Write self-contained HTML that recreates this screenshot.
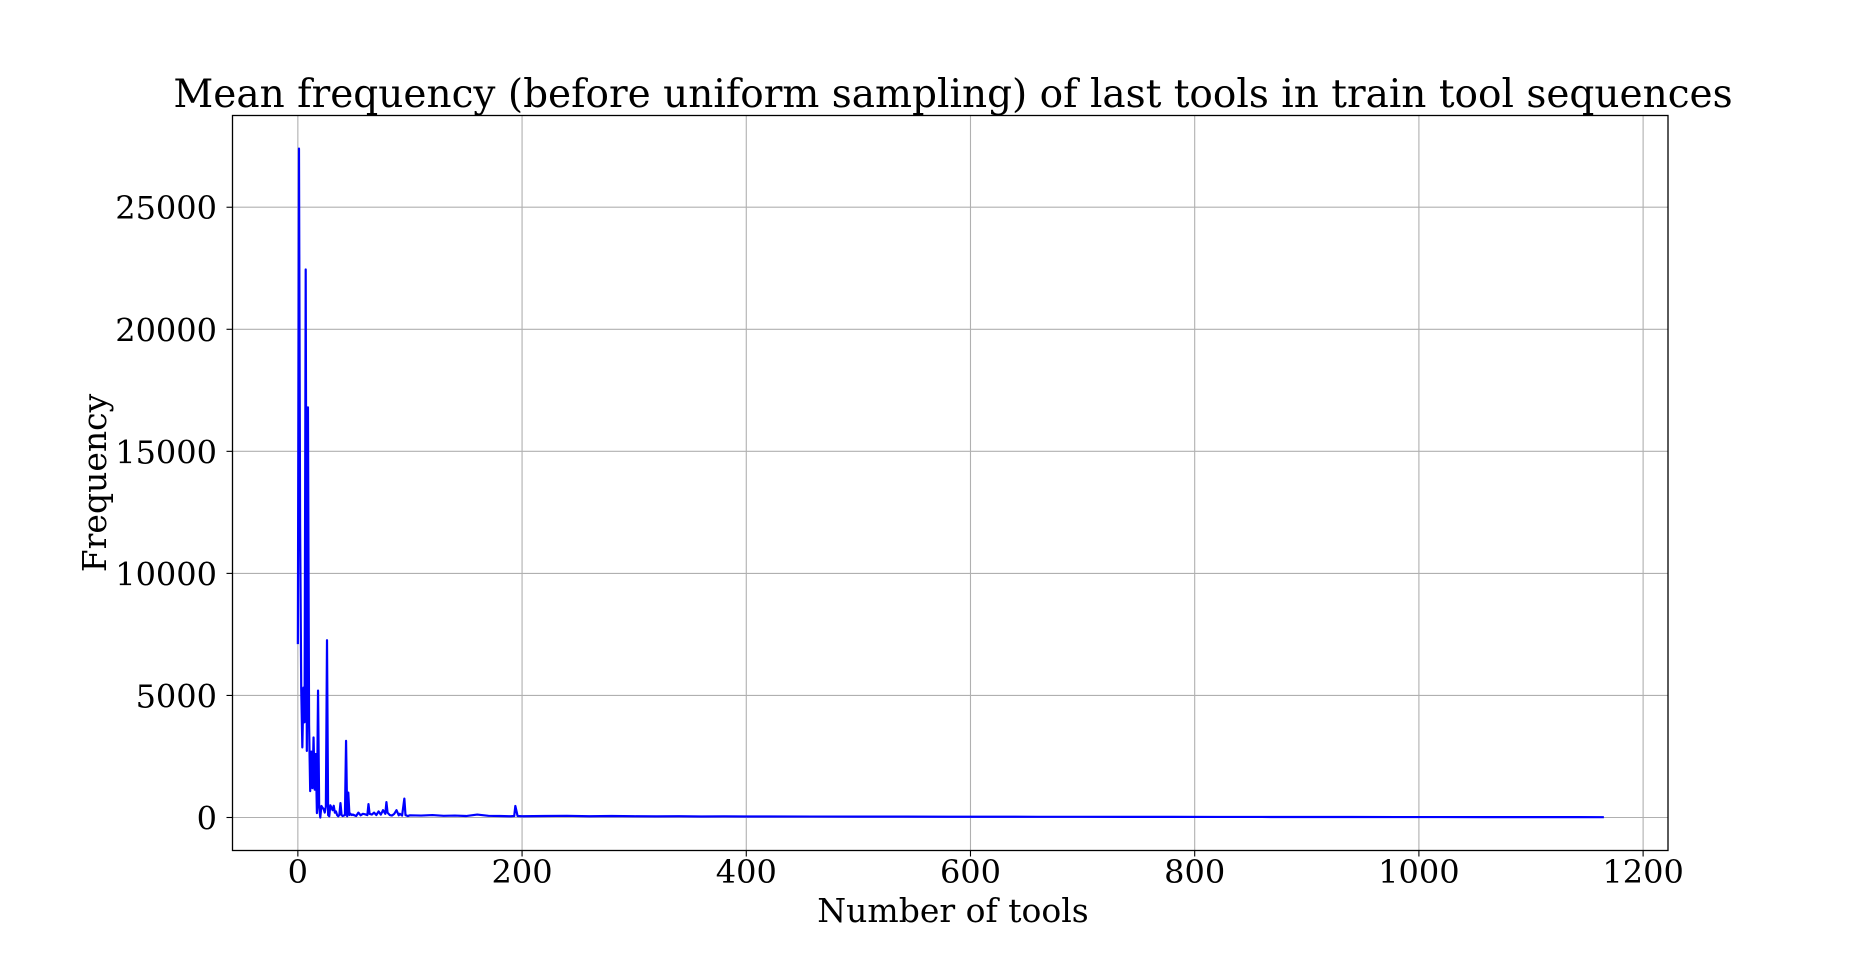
<!DOCTYPE html>
<html><head><meta charset="utf-8"><style>
html,body{margin:0;padding:0;background:#fff;}
svg{display:block;}
text{font-family:"DejaVu Serif","Liberation Serif",serif;fill:#000;}
</style></head><body>
<svg id="chart" width="1853" height="955" viewBox="0 0 1853 955" xmlns="http://www.w3.org/2000/svg">
<rect x="0" y="0" width="1853" height="955" fill="#fff"/>
<text x="953" y="107" font-size="39" text-anchor="middle">Mean frequency (before uniform sampling) of last tools in train tool sequences</text>
<g id="grid"></g>
<g id="series"></g>
<rect x="232.5" y="115.5" width="1435.5" height="735" fill="none" stroke="#000" stroke-width="1.3"/>
<g id="ticks"></g>
<text x="953" y="922" font-size="33" text-anchor="middle">Number of tools</text>
<text transform="translate(106,483) rotate(-90)" font-size="33" text-anchor="middle">Frequency</text>
</svg>
<script>
const xTicks = [0, 200, 400, 600, 800, 1000, 1200];
const yTicks = [0, 5000, 10000, 15000, 20000, 25000];
const tools = [
0,1,2,3,4,5,6,7,8,9,
10,11,12,13,14,15,16,17,18,19,
20,21,22,23,24,25,26,27,28,29,
30,31,32,33,34,35,36,37,38,39,
40,41,42,43,44,45,46,47,48,49,
50,52,54,56,58,60,62,63,64,66,68,70,72,74,76,78,79,80,82,84,86,88,90,91,93,95,96,98,
100,110,120,130,140,150,160,170,180,190,
193,194,196,
200,220,240,260,280,300,320,340,360,380,400,
420,460,500,540,580,620,660,700,740,780,820,860,900,940,980,1020,1060,1100,1140,
1165];
const freq = [
7100,27400,12000,5300,2870,5320,3900,22450,2730,16800,
3800,1080,2700,1200,3280,1140,2600,180,5200,400,
0,470,400,350,200,450,7260,100,50,500,
400,300,480,200,250,100,50,100,590,100,
60,80,100,3140,50,1020,100,150,100,120,
100,60,200,90,150,130,100,550,150,120,200,100,250,120,300,150,630,200,100,80,150,300,90,150,80,775,100,60,
90,80,100,70,80,60,120,70,60,50,
60,470,60,
50,60,70,50,60,50,45,50,40,45,40,
40,38,35,35,30,30,28,28,25,25,22,22,20,20,18,18,16,15,14,
12];
const plot = {left:232.5, right:1668, top:115.5, bottom:850.5};
const xMin = -58.3, xMax = 1222.2, yMin = -1352, yMax = 28758;
function xs(v){ return plot.left + (v - xMin) / (xMax - xMin) * (plot.right - plot.left); }
function ys(v){ return plot.bottom - (v - yMin) / (yMax - yMin) * (plot.bottom - plot.top); }
const NS = 'http://www.w3.org/2000/svg';
const grid = document.getElementById('grid');
const ticks = document.getElementById('ticks');
xTicks.forEach(t => {
  const x = xs(t);
  const g = document.createElementNS(NS,'line');
  g.setAttribute('x1',x); g.setAttribute('x2',x); g.setAttribute('y1',plot.top); g.setAttribute('y2',plot.bottom);
  g.setAttribute('stroke','#b0b0b0'); g.setAttribute('stroke-width','1.1');
  
  
  grid.appendChild(g);
  const tk = document.createElementNS(NS,'line');
  tk.setAttribute('x1',x); tk.setAttribute('x2',x); tk.setAttribute('y1',plot.bottom); tk.setAttribute('y2',plot.bottom+6);
  tk.setAttribute('stroke','#000'); tk.setAttribute('stroke-width','1.1');
  
  
  ticks.appendChild(tk);
  const lb = document.createElementNS(NS,'text');
  lb.setAttribute('x',x); lb.setAttribute('y',883); lb.setAttribute('font-size','32'); lb.setAttribute('text-anchor','middle');
  lb.textContent = t;
  
  
  ticks.appendChild(lb);
});
yTicks.forEach(t => {
  const y = ys(t);
  const g = document.createElementNS(NS,'line');
  g.setAttribute('x1',plot.left); g.setAttribute('x2',plot.right); g.setAttribute('y1',y); g.setAttribute('y2',y);
  g.setAttribute('stroke','#b0b0b0'); g.setAttribute('stroke-width','1.1');
  
  
  grid.appendChild(g);
  const tk = document.createElementNS(NS,'line');
  tk.setAttribute('x1',plot.left-6); tk.setAttribute('x2',plot.left); tk.setAttribute('y1',y); tk.setAttribute('y2',y);
  tk.setAttribute('stroke','#000'); tk.setAttribute('stroke-width','1.1');
  
  
  ticks.appendChild(tk);
  const lb = document.createElementNS(NS,'text');
  lb.setAttribute('x',217); lb.setAttribute('y',y+12); lb.setAttribute('font-size','32'); lb.setAttribute('text-anchor','end');
  lb.textContent = t;
  
  
  ticks.appendChild(lb);
});
const n = Math.min(tools.length, freq.length);
const pts = tools.slice(0, n).map((t,i) => xs(t).toFixed(2) + ',' + ys(freq[i]).toFixed(2)).join(' ');
const line = document.createElementNS(NS,'polyline');
line.setAttribute('points', pts);
line.setAttribute('fill','none'); line.setAttribute('stroke','#0000ff'); line.setAttribute('stroke-width','2.2');
line.setAttribute('stroke-linejoin','round');


document.getElementById('series').appendChild(line);
</script>
</body></html>
